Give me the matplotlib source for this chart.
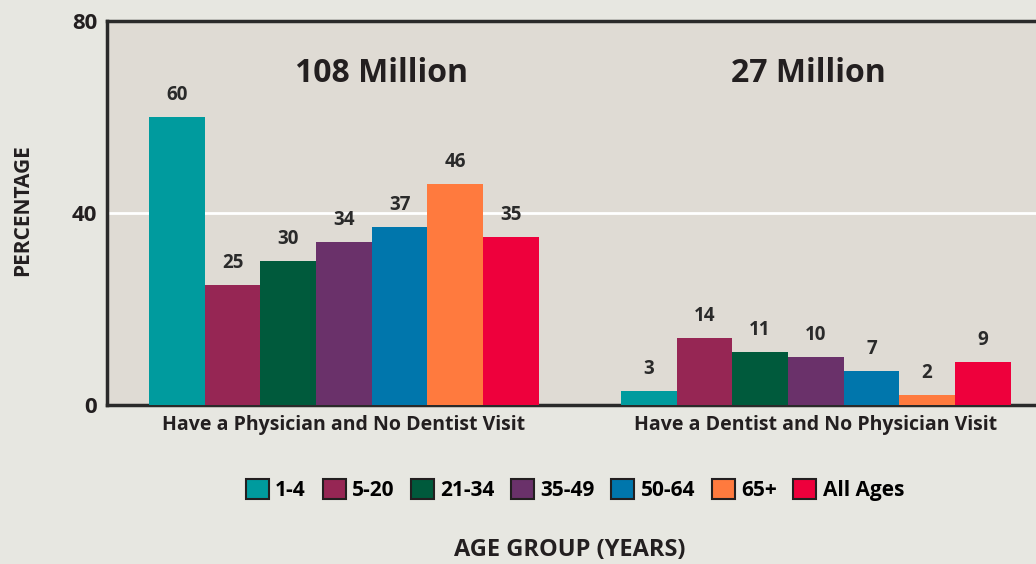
import numpy as np
import matplotlib.pyplot as plt
from matplotlib.patches import Patch

groups = ['Have a Physician and No Dentist Visit', 'Have a Dentist and No Physician Visit']
group_totals = ['108 Million', '27 Million']
age_groups = ['1-4', '5-20', '21-34', '35-49', '50-64', '65+', 'All Ages']
physician_no_dentist = [60, 25, 30, 34, 37, 46, 35]
dentist_no_physician = [3, 14, 11, 10, 7, 2, 9]
colors = ['#009B9E', '#962654', '#005A3C', '#6A316A', '#0076AC', '#FF7A3E', '#EE003C']

plt.rcParams['font.family'] = ['Open Sans', 'DejaVu Sans']
dark = '#231f20'

fig = plt.figure(figsize=(10.36, 5.64), dpi=100, facecolor='#E7E7E1')
ax = fig.add_axes([0.1033, 0.2819, 0.9, 0.6809])
ax.set_facecolor('#DFDBD4')

width = 0.118
x = np.arange(len(groups))
values = np.array([physician_no_dentist, dentist_no_physician])
for i, age in enumerate(age_groups):
    pos = x + (i - 3) * width
    bars = ax.bar(pos, values[:, i], width, color=colors[i], zorder=3)
    for b, v in zip(bars, values[:, i]):
        ax.text(b.get_x() + b.get_width() / 2, v + 2.5, str(v), ha='center', va='bottom',
                fontsize=13.5, fontweight='bold', color='#2a2a2a')

for xi, t, dx in zip(x, group_totals, [0.08, -0.015]):
    ax.text(xi + dx, 69, t, ha='center', va='center', fontsize=23, fontweight='bold', color=dark)

ax.set_xlim(-0.502, 1.474)
ax.set_ylim(0, 80)
ax.set_yticks([0, 40, 80])
ax.set_yticklabels(['0', '40', '80'], fontsize=16, fontweight='bold', color=dark)
ax.set_xticks(x)
ax.set_xticklabels(groups, fontsize=14, fontweight='bold', color=dark)
ax.tick_params(length=0, pad=7)
ax.axhline(40, color='white', lw=2, zorder=1)

for s in ['left', 'top', 'bottom']:
    ax.spines[s].set_color('#2a2a2a')
    ax.spines[s].set_linewidth(2.5)
ax.spines['right'].set_visible(False)

fig.text(0.022, 0.628, 'PERCENTAGE', rotation=90, ha='center', va='center', fontsize=15,
         fontweight='bold', color=dark)

handles = [Patch(facecolor=c, edgecolor=dark, linewidth=1.5) for c in colors]
fig.legend(handles, age_groups, loc='center', bbox_to_anchor=(0.555, 0.131), ncol=7,
           frameon=False, prop={'weight': 'bold', 'size': 15},
           handlelength=1.1, handleheight=1.1, handletextpad=0.3, columnspacing=0.8)
fig.text(0.55, 0.024, 'AGE GROUP (YEARS)', ha='center', va='center', fontsize=17,
         fontweight='bold', color=dark)

fig.savefig('out.png', dpi=100, facecolor=fig.get_facecolor())
